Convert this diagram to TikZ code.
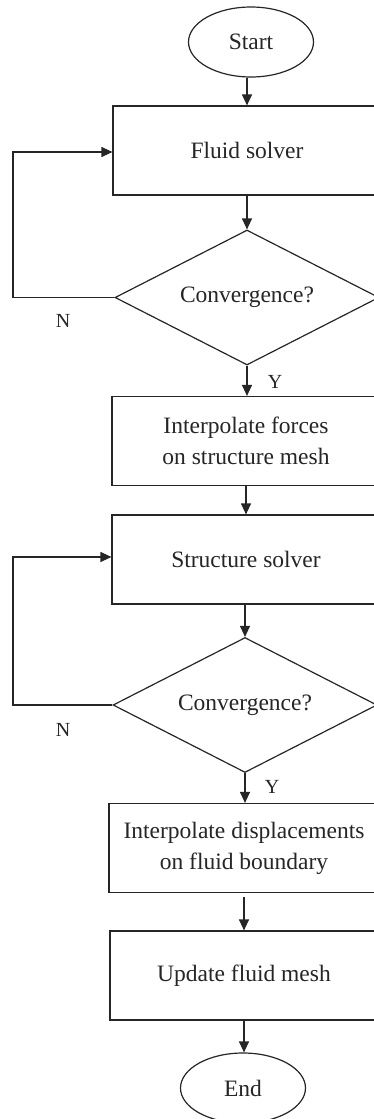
\documentclass[tikz,border=0pt]{standalone}
\usepackage{fontspec}
\setmainfont{Liberation Serif}
\usetikzlibrary{arrows.meta,shapes.geometric}
\begin{document}
\begin{tikzpicture}[x=1pt,y=1pt,
  every node/.style={font=\fontsize{23.5}{31}\selectfont, text=black!85},
  line/.style={line width=1.2pt, draw=black!85},
  arr/.style={line, -{Triangle[length=11pt,width=10pt]}},
  boxn/.style={line, draw, rectangle, minimum width=268pt, minimum height=89pt, inner sep=0pt, align=center},
  decis/.style={line, draw, diamond, minimum width=264pt, minimum height=135pt, inner sep=0pt, aspect=1.95},
  term/.style={line, draw, ellipse, minimum width=125pt, minimum height=70pt, inner sep=0pt},
  lab/.style={font=\fontsize{20}{24}\selectfont}]
\useasboundingbox (0,0) rectangle (374,-1119);
\clip (0,0) rectangle (374,-1119);
\fill[white] (0,0) rectangle (374,-1119);

\node[term] (start) at (251,-42) {Start};
\node[boxn] (fluid) at (247,-150.5) {Fluid solver};
\node[decis] (d1) at (247,-297.5) {Convergence?};
\node[boxn] (force) at (246,-441) {Interpolate forces\\on structure mesh};
\node[boxn] (struct) at (246,-559.5) {Structure solver};
\node[decis] (d2) at (245,-705) {Convergence?};
\node[boxn, minimum width=270pt] (disp) at (244,-848) {Interpolate displacements\\on fluid boundary};
\node[boxn, minimum width=268pt] (upd) at (244,-975.5) {Update fluid mesh};
\node[term] (end) at (243,-1088) {End};

\node[lab] (n1) at (63,-321) {N};
\node[lab] (y1) at (275,-382) {Y};
\node[lab] (n2) at (63,-730) {N};
\node[lab] (y2) at (272,-787) {Y};

\draw[arr] (start.south -| fluid.north) -- (fluid.north);
\draw[arr] (fluid.south) -- (d1.north);
\draw[arr] (d1.south) -- (d1.south |- force.north);
\draw[arr] (force.south) -- (struct.north);
\draw[arr] (d2.north |- struct.south) -- (d2.north);
\draw[arr] (d2.south) -- (d2.south |- disp.north);
\draw[arr] ([yshift=-4pt]disp.south) -- (upd.north);
\draw[arr] (upd.south) -- (upd.south |- end.north);

\coordinate (l1) at (13,-297.5);
\coordinate (l2) at (13,-705);
\draw[arr] (d1.west) -- (l1) |- ([yshift=-1.5pt]fluid.west);
\draw[arr] (d2.west) -- (l2) |- ([yshift=2.5pt]struct.west);
\end{tikzpicture}
\end{document}
